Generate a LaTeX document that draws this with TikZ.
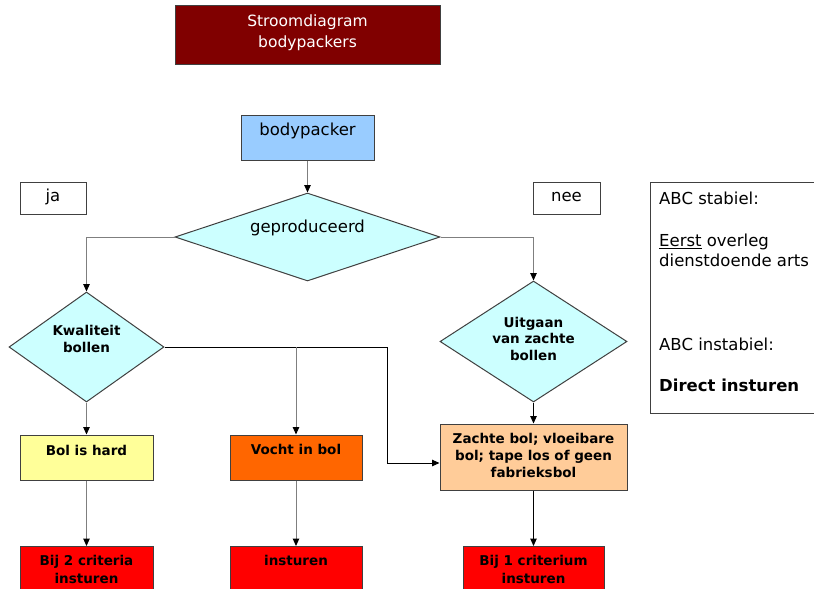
\documentclass[tikz,border=0pt]{standalone}
\usepackage{fontspec}
\setmainfont{DejaVu Sans}
\usetikzlibrary{shapes.geometric,arrows.meta}
\definecolor{titlered}{HTML}{800000}
\definecolor{startblue}{HTML}{99CCFF}
\definecolor{decisioncyan}{HTML}{CCFFFF}
\definecolor{hardyellow}{HTML}{FFFF99}
\definecolor{vochtorange}{HTML}{FF6600}
\definecolor{zachtpeach}{HTML}{FFCC99}
\definecolor{alarmred}{HTML}{FF0000}
\definecolor{edgegray}{HTML}{404040}
\definecolor{linegray}{HTML}{7F7F7F}
\tikzset{
  box/.style={draw=edgegray, line width=1pt, rectangle, inner sep=0pt},
  decision/.style={draw=edgegray, line width=1pt, diamond, inner sep=0pt, fill=decisioncyan},
  regtxt/.style={font=\fontsize{16.5}{20}\selectfont, inner sep=0pt, align=center},
  smallbold/.style={font=\fontsize{13.5}{17}\selectfont\bfseries, inner sep=0pt, align=center},
  conn/.style={draw=linegray, line width=1pt},
  connk/.style={draw=black, line width=1pt},
  tip/.style={-{Triangle[length=7.5pt,width=6.5pt,color=black]}},
}
\begin{document}
\begin{tikzpicture}[x=1pt,y=-1pt]
\useasboundingbox (0,0) rectangle (814,589);
\clip (0,0) rectangle (814,589);
\fill[white] (0,0) rectangle (814,589);

% title
\node[box, fill=titlered, minimum width=265pt, minimum height=59pt] (title) at (307.5,34.5) {};
\node[regtxt, text=white, font=\fontsize{15.5}{21}\selectfont] (titlet) at (307.5,32.5) {Stroomdiagram\\bodypackers};

% start
\node[box, fill=startblue, minimum width=133pt, minimum height=45pt] (start) at (307.5,137.5) {};
\node[regtxt] (startt) at (307.5,131) {bodypacker};

% ja / nee labels
\node[box, fill=white, minimum width=66pt, minimum height=32pt] (ja) at (53,198) {};
\node[regtxt] (jat) at (53,197) {ja};
\node[box, fill=white, minimum width=67pt, minimum height=32pt] (nee) at (566.5,198) {};
\node[regtxt] (neet) at (566.5,197) {nee};

% side note
\node[box, fill=white, minimum width=200pt, minimum height=231pt, anchor=north west] (abc) at (650,182) {};
\node[regtxt, anchor=west] (abc1) at (659,198) {ABC stabiel:};
\node[regtxt, anchor=west, align=left, font=\fontsize{16.5}{20}\selectfont] (abc2) at (659,250) {\underline{Eerst} overleg\\dienstdoende arts};
\node[regtxt, anchor=west] (abc3) at (659,344) {ABC instabiel:};
\node[regtxt, anchor=west, font=\fontsize{16.5}{20}\selectfont\bfseries] (abc4) at (659,385) {Direct insturen};

% decisions
\node[decision, minimum width=265pt, minimum height=88pt] (gep) at (307.5,237) {};
\node[regtxt] (gept) at (307.5,228) {geproduceerd};
\node[decision, minimum width=155pt, minimum height=110pt] (kwal) at (86.5,347) {};
\node[smallbold] (kwalt) at (86.5,338.5) {Kwaliteit\\bollen};
\node[decision, minimum width=187pt, minimum height=121pt] (uit) at (533.5,341.5) {};
\node[smallbold, font=\fontsize{13.5}{16.5}\selectfont\bfseries] (uitt) at (533.5,338.5) {Uitgaan\\van zachte\\bollen};

% outcome boxes
\node[box, fill=hardyellow, minimum width=133pt, minimum height=45pt] (hard) at (86.5,457.5) {};
\node[smallbold] (hardt) at (86.5,450) {Bol is hard};
\node[box, fill=vochtorange, minimum width=132pt, minimum height=45pt] (vocht) at (296,457.5) {};
\node[smallbold] (vochtt) at (296,449) {Vocht in bol};
\node[box, fill=zachtpeach, minimum width=187pt, minimum height=66pt] (zacht) at (533.5,457) {};
\node[smallbold] (zachtt) at (533.5,455) {Zachte bol; vloeibare\\bol; tape los of geen\\fabrieksbol};

% admission boxes
\node[box, fill=alarmred, minimum width=133pt, minimum height=50pt, anchor=north] (crit2) at (86.5,546) {};
\node[smallbold, font=\fontsize{13.5}{18}\selectfont\bfseries] (crit2t) at (86.5,569) {Bij 2 criteria\\insturen};
\node[box, fill=alarmred, minimum width=132pt, minimum height=50pt, anchor=north] (inst) at (296,546) {};
\node[smallbold] (instt) at (296,560) {insturen};
\node[box, fill=alarmred, minimum width=141pt, minimum height=50pt, anchor=north] (crit1) at (533.5,546) {};
\node[smallbold, font=\fontsize{13.5}{18}\selectfont\bfseries] (crit1t) at (533.5,569) {Bij 1 criterium\\insturen};

% connectors
\coordinate (gl) at (86.5,237);
\coordinate (gr) at (533.5,237);
\coordinate (kbend) at (387,347);
\coordinate (kbranch) at (296,347);
\coordinate (kdown) at (387,463);

\draw[conn, tip] (start.south) -- (gep.north);
\draw[conn, tip] (gep.west) -- (gl) -- (kwal.north);
\draw[conn, tip] (gep.east) -- (gr) -- (uit.north);
\draw[connk, tip] (kwal.east) -- (kbend) -- (kdown) -- (zacht.west |- kdown);
\draw[conn, tip] (kbranch) -- (vocht.north);
\draw[conn, tip] (kwal.south) -- (hard.north);
\draw[connk, tip] (uit.south) -- (zacht.north);
\draw[conn, tip] (hard.south) -- (crit2.north);
\draw[conn, tip] (vocht.south) -- (inst.north);
\draw[connk, tip] (zacht.south) -- (crit1.north);
\end{tikzpicture}
\end{document}
